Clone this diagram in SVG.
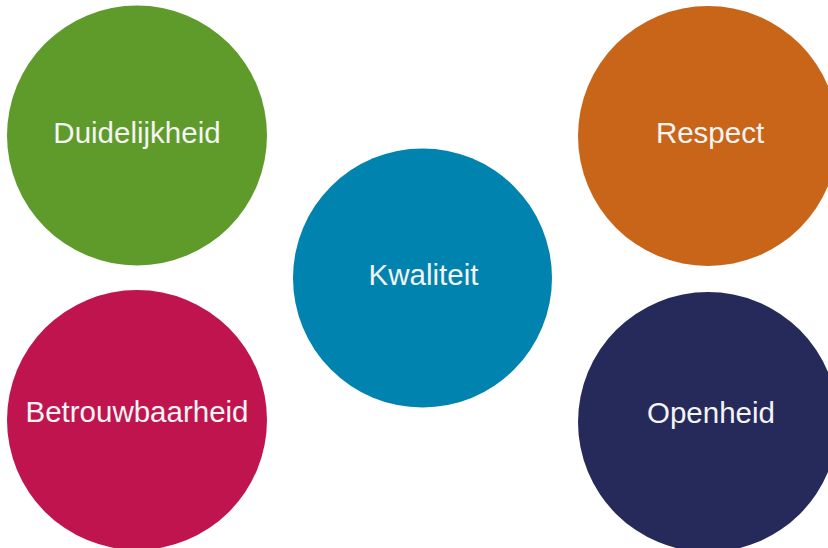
<svg xmlns="http://www.w3.org/2000/svg" width="828" height="548" viewBox="0 0 828 548">
<style>
.lbl{font-family:"Liberation Sans",Arial,sans-serif;font-size:29.5px;fill:#f4f4f4;text-anchor:middle}
</style>
<rect width="828" height="548" fill="#ffffff"/>
<g id="connectors"></g>
<g id="duidelijkheid"><circle cx="137" cy="135.5" r="130" fill="#5f9b2a"/><text class="lbl" x="137" y="143">Duidelijkheid</text></g>
<g id="respect"><circle cx="708" cy="136" r="130" fill="#c96518"/><text class="lbl" x="710" y="143">Respect</text></g>
<g id="kwaliteit"><circle cx="422.5" cy="278" r="129.5" fill="#0083ae"/><text class="lbl" x="423.5" y="285">Kwaliteit</text></g>
<g id="betrouwbaarheid"><circle cx="137" cy="420" r="130" fill="#c0144f"/><text class="lbl" x="137" y="422">Betrouwbaarheid</text></g>
<g id="openheid"><circle cx="708" cy="422" r="130" fill="#262a5a"/><text class="lbl" x="711" y="423">Openheid</text></g>
</svg>
